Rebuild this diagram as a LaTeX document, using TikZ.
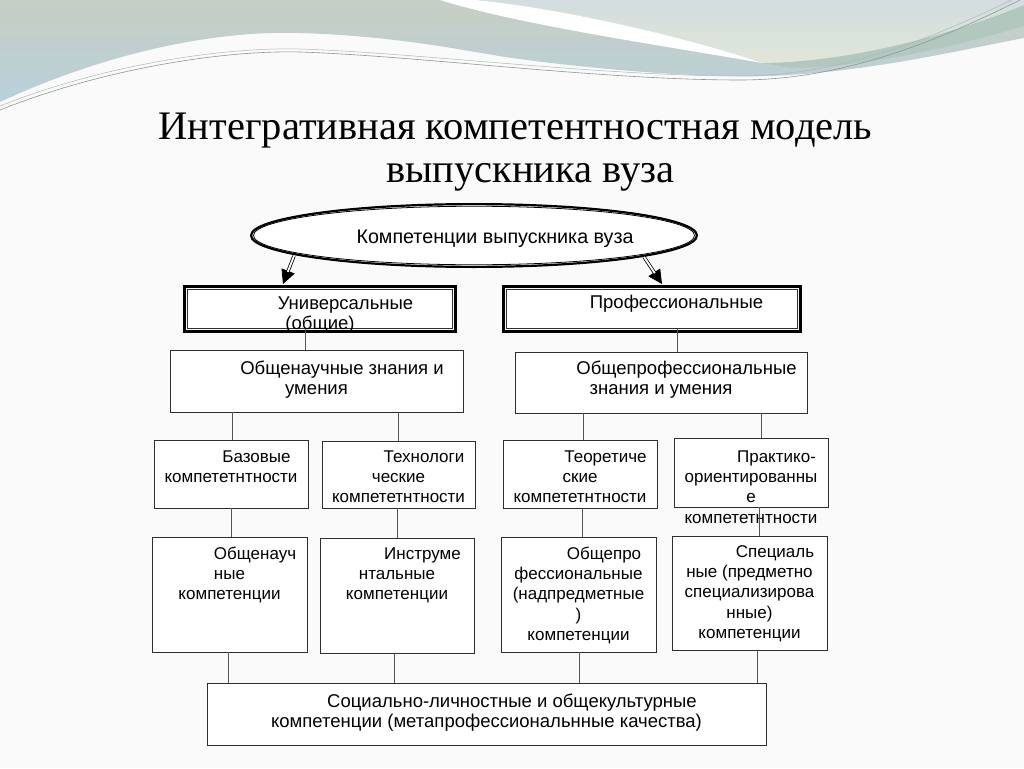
\documentclass[tikz,border=0pt]{standalone}
\usepackage{fontspec}
\setmainfont{Liberation Serif}
\setsansfont{Liberation Sans}
\usetikzlibrary{arrows.meta,shapes.geometric,calc}
\definecolor{paper}{HTML}{FAFAFA}
\definecolor{bandtop}{HTML}{C7CEC4}
\definecolor{bandbot}{HTML}{B7D1DA}
\definecolor{uptop}{HTML}{D3DDE0}
\definecolor{upbot}{HTML}{E0E6D8}
\definecolor{darkband}{HTML}{B2C7BE}
\definecolor{swline}{HTML}{8A9896}
\definecolor{boxline}{HTML}{2E2E2E}
\definecolor{connline}{HTML}{555555}
\newcommand{\firststrut}{\rule{0pt}{13pt}}
\newcommand{\firstbig}{\rule{0pt}{14pt}}
\begin{document}
\begin{tikzpicture}[x=1pt,y=-1pt,
  box/.style={rectangle, draw=boxline, line width=0.9pt, fill=white, inner sep=0pt},
  txt/.style={font=\sffamily\fontsize{17}{20.3}\selectfont, align=center, inner sep=0pt, anchor=north, text=black},
  txtbig/.style={font=\sffamily\fontsize{18.5}{20.6}\selectfont, align=center, inner sep=0pt, anchor=north, text=black},
  conn/.style={draw=connline, line width=0.9pt},
  heading/.style={font=\rmfamily\fontsize{40.5}{46}\selectfont, inner sep=0pt, anchor=base, text=black},
  frame/.style={draw=black, line width=2.4pt},
  arrowshaft/.style={draw=black, double=white, double distance=1.8pt, line width=0.8pt, shorten >=13pt},
  arrowhead/.style={draw=black, line width=0.8pt, -{Triangle[length=14pt,width=14pt,fill=black]}}]
\useasboundingbox (0,0) rectangle (1024,768);
\fill[paper] (0,0) rectangle (1024,768);
% decorative top band
\shade[top color=bandtop, bottom color=bandbot] (0,0) -- (1024,0) -- (1024,38)
  .. controls (960,50) and (870,72) .. (770,76)
  .. controls (700,78) and (600,70) .. (512,58)
  .. controls (470,52) and (400,36) .. (300,33)
  .. controls (200,30) and (90,60) .. (0,102) -- cycle;
\fill[darkband] (762,63) .. controls (850,62) and (950,35) .. (1024,5) -- (1024,26)
  .. controls (950,48) and (860,68) .. (790,68) -- cycle;
\shade[top color=uptop, bottom color=upbot] (475,0) .. controls (560,8) and (690,38) .. (762,63)
  .. controls (850,62) and (950,35) .. (1024,5) -- (1024,0) -- cycle;
\fill[white] (440,0) .. controls (520,25) and (660,45) .. (762,63)
  .. controls (690,38) and (560,8) .. (475,0) -- cycle;
\draw[swline, line width=0.6pt] (0,110) .. controls (100,70) and (220,50) .. (300,52)
  .. controls (420,56) and (600,80) .. (740,80) .. controls (850,80) and (950,35) .. (1024,-2);
\draw[swline!70, line width=0.5pt] (0,106) .. controls (100,66) and (220,47) .. (300,49)
  .. controls (420,53) and (600,76) .. (740,76) .. controls (850,76) and (950,30) .. (1024,-6);
% title
\node[heading] (title1) at (515.5,139) {Интегративная компетентностная модель};
\node[heading] (title2) at (530.5,182) {выпускника вуза};
% ellipse
\draw[line width=2.2pt, fill=white] (474,235.5) ellipse [x radius=222.9pt, y radius=31.4pt];
\node[ellipse, draw=black, line width=0.8pt, minimum width=441pt, minimum height=58.5pt, inner sep=0pt] (E) at (474,235.5) {};
\node[font=\sffamily\fontsize{19.7}{22}\selectfont, inner sep=0pt, anchor=base] (Et) at (495,243) {Компетенции выпускника вуза};
% level 1 boxes
\node[box, minimum width=265pt, minimum height=39pt] (U) at (320,309) {};
\draw[frame] ([shift={(-2.7,-2.7)}]U.north west) rectangle ([shift={(2.7,2.7)}]U.south east);
\node[box, minimum width=291pt, minimum height=39pt] (P) at (652,309) {};
\draw[frame] ([shift={(-2.7,-2.7)}]P.north west) rectangle ([shift={(2.7,2.7)}]P.south east);
\node[txtbig] (Ut) at (320,295) {\firstbig\hspace*{51pt}Универсальные\\(общие)};
\node[txtbig] (Pt) at (652,294) {\firstbig\hspace*{49pt}Профессиональные};
% arrows
\coordinate (a1s) at (294,256); \coordinate (a1e) at (283,284);
\coordinate (a2s) at (644,257); \coordinate (a2e) at (662,284);
\draw[arrowhead] (a1s) -- (a1e);
\draw[arrowshaft] (a1s) -- (a1e);
\draw[arrowhead] (a2s) -- (a2e);
\draw[arrowshaft] (a2s) -- (a2e);
% level 2
\node[box, minimum width=293pt, minimum height=62pt] (G1) at (316.5,381) {};
\node[box, minimum width=292pt, minimum height=61pt] (G2) at (661,382.5) {};
\node[txtbig] (G1t) at (316.5,360) {\firstbig\hspace*{51pt}Общенаучные знания и\\умения};
\node[txtbig] (G2t) at (661,360) {\firstbig\hspace*{51pt}Общепрофессиональные\\знания и умения};
% level 3
\node[box, minimum width=154pt, minimum height=68pt] (B1) at (231,474) {};
\node[box, minimum width=153pt, minimum height=67pt] (B2) at (398.5,474.5) {};
\node[box, minimum width=154pt, minimum height=68pt] (B3) at (580,474) {};
\node[box, minimum width=154pt, minimum height=69pt] (B4) at (751,472.5) {};
\node[txt] (B1t) at (231,449) {\firststrut\hspace*{51pt}Базовые\\компететнтности};
\node[txt] (B2t) at (398.5,449) {\firststrut\hspace*{51pt}Технологи\\ческие\\компететнтности};
\node[txt] (B3t) at (580,449) {\firststrut\hspace*{51pt}Теоретиче\\ские\\компететнтности};
\node[txt] (B4t) at (751,449) {\firststrut\hspace*{51pt}Практико-\\ориентированны\\е\\компететнтности};
% level 4
\node[box, minimum width=155pt, minimum height=115pt] (C1) at (229.5,594.5) {};
\node[box, minimum width=154pt, minimum height=115pt] (C2) at (397,595.5) {};
\node[box, minimum width=155pt, minimum height=115pt] (C3) at (578.5,594.5) {};
\node[box, minimum width=155pt, minimum height=114pt] (C4) at (749.5,593) {};
\node[txt] (C1t) at (229.5,546) {\firststrut\hspace*{51pt}Общенауч\\ные\\компетенции};
\node[txt] (C2t) at (397,546) {\firststrut\hspace*{51pt}Инструме\\нтальные\\компетенции};
\node[txt] (C3t) at (578.5,546) {\firststrut\hspace*{51pt}Общепро\\фессиональные\\(надпредметные\\)\\компетенции};
\node[txt] (C4t) at (749.5,544) {\firststrut\hspace*{51pt}Специаль\\ные (предметно\\специализирова\\нные)\\компетенции};
% bottom
\node[box, minimum width=559pt, minimum height=62pt] (D) at (486.5,714) {};
\node[txtbig] (Dt) at (486.5,693) {\firstbig\hspace*{51pt}Социально-личностные и общекультурные\\компетенции (метапрофессиональнные качества)};
% connectors
\foreach \n/\xx in {k1/305,k2/677,k3/232,k4/398,k5/583,k6/761,k7/231,k8/397,k9/582,k10/759,k11/228,k12/394,k13/579,k14/757}
  \coordinate (\n) at (\xx,0);
\draw[conn] (U.south -| k1) -- (G1.north -| k1);
\draw[conn] (P.south -| k2) -- (G2.north -| k2);
\draw[conn] (G1.south -| k3) -- (B1.north -| k3);
\draw[conn] (G1.south -| k4) -- (B2.north -| k4);
\draw[conn] (G2.south -| k5) -- (B3.north -| k5);
\draw[conn] (G2.south -| k6) -- (B4.north -| k6);
\draw[conn] (B1.south -| k7) -- (C1.north -| k7);
\draw[conn] (B2.south -| k8) -- (C2.north -| k8);
\draw[conn] (B3.south -| k9) -- (C3.north -| k9);
\draw[conn] (B4.south -| k10) -- (C4.north -| k10);
\draw[conn] (C1.south -| k11) -- (D.north -| k11);
\draw[conn] (C2.south -| k12) -- (D.north -| k12);
\draw[conn] (C3.south -| k13) -- (D.north -| k13);
\draw[conn] (C4.south -| k14) -- (D.north -| k14);
\end{tikzpicture}
\end{document}
